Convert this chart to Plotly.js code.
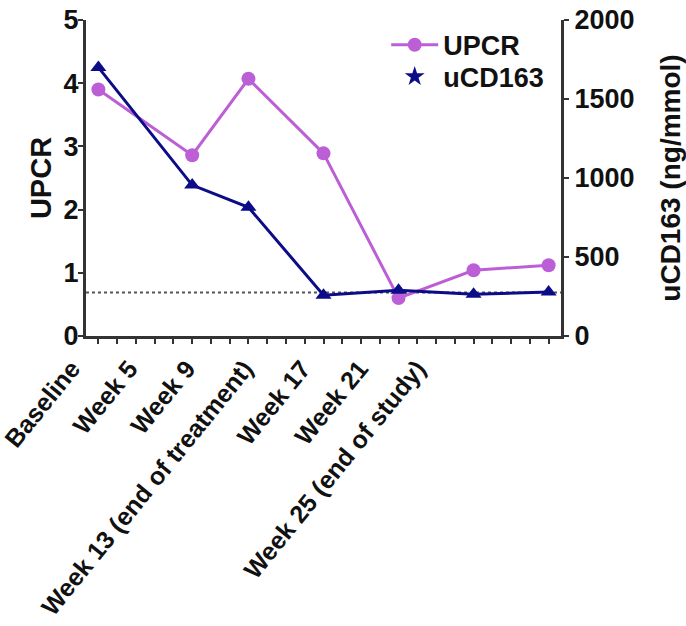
<!DOCTYPE html>
<html>
<head>
<meta charset="utf-8">
<script src="https://cdn.plot.ly/plotly-3.0.1.min.js"></script>
<style>
html,body{margin:0;padding:0;background:#fff;}
#chart{width:686px;height:626px;}
</style>
</head>
<body>
<div id="chart"></div>
<script>
// Visit positions (week index on the x scale) and labels
const visitPos = [0, 5, 8, 12, 16, 20, 24];
const visitLabels = ["Baseline", "Week 5", "Week 9", "Week 13 (end of treatment)", "Week 17", "Week 21", "Week 25 (end of study)"];
// Series
const upcr = [3.9, 2.86, 4.07, 2.89, 0.6, 1.04, 1.12];
const ucd163 = [1700, 955, 815, 258, 290, 265, 278];
// Reference threshold (UPCR scale)
const threshold = 0.69;

const purple = "#BC5FD6";
const navy = "#0C0C88";
const fontFam = "Liberation Sans, Arial, sans-serif";

// In the original figure the category labels are evenly spaced along the axis
// (not aligned with the visit ticks).
const labelStart = -0.62, labelStep = 3.07;
const labelPos = visitLabels.map((_, i) => labelStart + i * labelStep);

const traces = [
  {
    x: visitPos, y: upcr, name: "UPCR", type: "scatter", mode: "lines+markers",
    line: {color: purple, width: 3}, marker: {color: purple, size: 14, symbol: "circle"},
    yaxis: "y", showlegend: true, legend: "legend"
  },
  {
    x: visitPos, y: ucd163, name: "uCD163", type: "scatter", mode: "lines+markers",
    line: {color: navy, width: 3}, marker: {color: navy, size: 14, symbol: "triangle-up"},
    yaxis: "y2", showlegend: false
  },
  {
    x: [null], y: [null], name: "uCD163", type: "scatter", mode: "markers",
    marker: {color: navy, size: 15, symbol: "star"}, yaxis: "y2", showlegend: true, legend: "legend2"
  }
];

const legFont = {size: 27, family: fontFam, weight: "bold", color: "#111"};

const layout = {
  width: 686, height: 626,
  margin: {l: 86, r: 125, t: 20, b: 290},
  paper_bgcolor: "#fff", plot_bgcolor: "#fff",
  font: {family: fontFam, color: "#111", size: 25, weight: "bold"},
  showlegend: true,
  legend: {
    x: 0.632, y: 0.998, xanchor: "left", yanchor: "top",
    bgcolor: "rgba(0,0,0,0)", font: legFont, itemwidth: 47
  },
  legend2: {
    x: 0.632, y: 0.897, xanchor: "left", yanchor: "top",
    bgcolor: "rgba(0,0,0,0)", font: legFont, itemwidth: 47
  },
  xaxis: {
    range: [-0.66, 24.66], tickmode: "array", tickvals: labelPos, ticktext: visitLabels,
    tickangle: -51, ticks: "", ticklabelshift: -15, ticklabelstandoff: 5, ticklabeloverflow: "allow",
    minor: {tickmode: "linear", tick0: 0, dtick: 1, ticks: "outside", ticklen: 5, tickwidth: 2, tickcolor: "#333"},
    showline: true, linewidth: 3, linecolor: "#333", showgrid: false, zeroline: false,
    tickfont: {size: 25, family: fontFam, weight: "bold", color: "#111"}
  },
  yaxis: {
    range: [0, 5], tickvals: [0, 1, 2, 3, 4, 5], ticks: "outside", ticklen: 5, tickwidth: 2, tickcolor: "#333",
    showline: true, linewidth: 3, linecolor: "#333", showgrid: false, zeroline: false,
    ticklabelstandoff: -6,
    tickfont: {size: 27, family: fontFam, weight: "bold", color: "#111"},
    title: {text: "UPCR", font: {size: 29, family: fontFam, weight: "bold", color: "#111"}, standoff: 4}
  },
  yaxis2: {
    range: [0, 2000], tickvals: [0, 500, 1000, 1500, 2000], overlaying: "y", side: "right",
    ticks: "outside", ticklen: 5, tickwidth: 2, tickcolor: "#333",
    showline: true, linewidth: 3, linecolor: "#333", showgrid: false, zeroline: false,
    tickfont: {size: 27, family: fontFam, weight: "bold", color: "#111"},
    title: {text: "uCD163 (ng/mmol)", font: {size: 28, family: fontFam, weight: "bold", color: "#111"}, standoff: 30}
  },
  shapes: [{
    type: "line", xref: "paper", x0: 0, x1: 1, yref: "y", y0: threshold, y1: threshold,
    line: {color: "#555", width: 2, dash: "3px,3px"}, layer: "below"
  }]
};

Plotly.newPlot("chart", traces, layout, {displayModeBar: false, staticPlot: true});
</script>
</body>
</html>
